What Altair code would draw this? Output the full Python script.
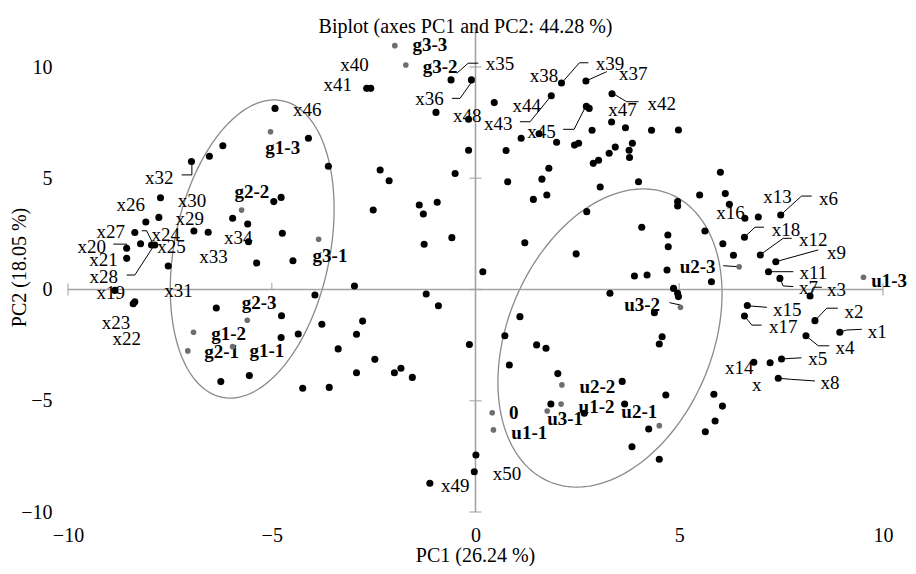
import altair as alt
import numpy as np
import pandas as pd

FONT = "Liberation Serif"
AXIS_COLOR = "#a3a3a3"
ELL_COLOR = "#8a8a8a"
GRAY_PT = "#6e6e6e"

TITLE = "Biplot (axes PC1 and PC2: 44.28 %)"
X_TITLE = "PC1 (26.24 %)"
Y_TITLE = "PC2 (18.05 %)"
tick_values = [-10, -5, 0, 5, 10]
y_axis_top = 11.8

# observation points (black)
pt_x = [-0.60, -0.10, -2.67, -2.57, -0.97, -4.92, -4.10, -6.20, -6.53, -6.97,
        -3.61, -2.34, -2.12, -0.50, 0.46, -0.17, -0.17, 0.75, 0.79, 1.86,
        2.11, 2.71, 3.35, 2.72, 2.79, 1.12, 1.56, 1.99, 2.43, 2.53,
        2.86, 3.34, 3.68, 4.32, 4.98, 3.85, 3.77, 3.78, 3.43, 3.28,
        3.02, 2.89, 1.80, 1.63, 4.00, 3.06, 6.01, 5.50, 6.13, 1.42,
        1.75, 2.73, 4.96, 4.96, 6.23, 6.61, 6.94, 7.49, 4.08, 5.63,
        4.72, 4.73, 6.60, 6.07, 1.21, 2.47, 6.33, 6.99, 7.37, 0.18,
        3.90, 4.21, 4.70, 5.79, 7.19, 7.47, 4.86, 4.96, 4.98, 3.30,
        8.21, 4.39, 6.67, 6.60, 8.33, 8.94, 8.11, 1.09, 0.72, 4.58,
        4.51, -0.15, 1.50, 1.73, 0.83, 6.83, 7.23, 7.51, 7.43, 2.02,
        3.60, 4.67, 5.85, 6.06, 5.88, 5.64, 1.85, 2.67, 3.66, 4.25,
        3.84, 4.51, 0.01, -0.03, -1.12, -7.73, -4.77, -4.95, -2.51, -1.38,
        -1.28, -0.94, -8.09, -7.77, -5.96, -5.59, -6.91, -6.56, -4.74, -8.36,
        -5.57, -1.26, -0.58, -8.22, -7.95, -7.87, -8.56, -8.56, -7.54, -5.37,
        -4.48, -2.97, -8.85, -3.94, -1.21, -0.91, -8.36, -8.40, -6.36, -4.76,
        -2.77, -3.77, -2.92, -4.35, -4.77, -3.37, -2.47, -2.92, -1.99, -1.83,
        -1.55, -5.55, -6.25, -4.24, -3.59]
pt_y = [9.42, 9.42, 9.04, 9.04, 7.96, 8.14, 6.80, 6.46, 5.99, 5.75,
        5.54, 5.37, 4.89, 5.21, 8.40, 7.65, 6.26, 6.25, 4.84, 8.71,
        9.28, 9.37, 8.80, 8.23, 8.14, 6.80, 7.00, 6.62, 6.49, 6.57,
        7.16, 7.53, 7.27, 7.16, 7.17, 6.57, 6.26, 5.93, 6.40, 6.12,
        5.81, 5.67, 5.45, 4.96, 4.84, 4.61, 5.27, 4.25, 4.31, 4.05,
        4.25, 3.50, 3.95, 3.75, 3.83, 3.20, 3.26, 3.35, 2.80, 2.63,
        2.45, 1.92, 2.35, 2.06, 2.10, 1.60, 1.54, 1.55, 1.25, 0.80,
        0.61, 0.65, 0.88, 0.35, 0.80, 0.50, 0.05, -0.17, -0.32, -0.17,
        -0.29, -1.04, -0.72, -1.19, -1.40, -1.92, -2.08, -1.22, -2.08, -2.12,
        -2.45, -2.47, -2.49, -2.64, -3.39, -3.27, -3.29, -3.12, -3.99, -3.78,
        -4.13, -4.74, -4.71, -5.24, -5.91, -6.39, -5.15, -5.56, -5.15, -6.27,
        -7.07, -7.63, -7.44, -8.19, -8.71, 4.12, 4.14, 3.95, 3.57, 3.80,
        3.39, 3.92, 3.03, 3.24, 3.20, 2.94, 2.63, 2.57, 2.53, 2.56,
        2.15, 2.03, 2.33, 2.06, 2.00, 2.00, 1.85, 1.40, 1.06, 1.19,
        1.29, 0.16, -0.04, -0.25, -0.20, -0.73, -0.55, -0.64, -0.83, -1.18,
        -1.42, -1.56, -2.01, -2.00, -2.16, -2.67, -3.14, -3.74, -3.74, -3.54,
        -3.95, -3.87, -4.14, -4.44, -4.40]

# group points (gray) and their bold labels
grp_names = ["g3-3", "g3-2", "g1-3", "g2-2", "g3-1", "g2-3", "g1-2", "g2-1", "g1-1",
             "u2-3", "u1-3", "u3-2", "u2-2", "u1-2", "u3-1", "u2-1", "0", "u1-1"]
grp_x = [-1.98, -1.71, -5.03, -5.74, -3.85, -5.60, -6.92, -7.06, -5.96,
         6.47, 9.52, 5.03, 2.12, 2.10, 1.76, 4.51, 0.41, 0.44]
grp_y = [10.96, 10.09, 7.09, 3.57, 2.26, -1.38, -1.92, -2.76, -2.57,
         1.02, 0.55, -0.80, -4.29, -5.15, -5.46, -6.12, -5.54, -6.31]
glab_x = [-1.12, -0.87, -4.73, -5.49, -3.57, -5.31, -6.06, -6.23, -5.12,
          5.45, 10.15, 4.09, 2.99, 2.97, 2.20, 4.02, 0.94, 1.32]
glab_y = [10.99, 10.01, 6.35, 4.36, 1.51, -0.62, -2.02, -2.83, -2.76,
          1.00, 0.40, -0.70, -4.37, -5.29, -5.83, -5.49, -5.56, -6.44]

# variable labels
lab_names = ["x1", "x2", "x3", "x4", "x5", "x6", "x7", "x8", "x9", "x11",
             "x12", "x13", "x14", "x", "x15", "x16", "x17", "x18", "x19", "x20",
             "x21", "x22", "x23", "x24", "x25", "x26", "x27", "x28", "x29", "x30",
             "x31", "x32", "x33", "x34", "x35", "x36", "x37", "x38", "x39", "x40",
             "x41", "x42", "x43", "x44", "x45", "x46", "x47", "x48", "x49", "x50"]
lab_x = [9.86, 9.29, 8.86, 9.07, 8.40, 8.66, 8.17, 8.70, 8.86, 8.29,
         8.29, 7.41, 6.47, 6.90, 7.65, 6.26, 7.55, 7.62, -8.95, -9.42,
         -9.13, -8.56, -8.82, -7.60, -7.46, -8.46, -8.95, -9.12, -7.01, -6.96,
         -7.29, -7.76, -6.43, -5.82, 0.60, -1.13, 3.87, 1.68, 3.30, -2.97,
         -3.38, 4.57, 0.56, 1.26, 1.62, -4.13, 3.61, -0.20, -0.50, 0.77]
lab_y = [-1.90, -1.00, -0.02, -2.64, -3.14, 4.05, 0.05, -4.22, 1.63, 0.73,
         2.22, 4.17, -3.54, -4.29, -0.92, 3.45, -1.70, 2.67, -0.17, 1.92,
         1.33, -2.24, -1.49, 2.45, 1.92, 3.80, 2.57, 0.58, 3.16, 3.99,
         -0.07, 5.00, 1.47, 2.30, 10.12, 8.55, 9.69, 9.60, 10.12, 10.09,
         9.19, 8.34, 7.44, 8.25, 7.09, 8.07, 8.07, 7.80, -8.83, -8.29]

# leader lines (point -> label)
leaders = {
    "x35": [(-0.46, 9.72), (-0.18, 10.17), (0.07, 10.17)],
    "x36": [(-0.58, 8.59), (-0.38, 8.59), (-0.09, 9.34)],
    "x39": [(2.12, 9.29), (2.55, 10.19), (2.77, 10.19)],
    "x37": [(2.71, 9.37), (3.22, 9.79)],
    "x42": [(3.36, 8.82), (3.71, 8.44), (4.00, 8.44)],
    "x43": [(1.86, 8.71), (1.34, 7.54), (1.09, 7.54)],
    "x45": [(2.71, 8.25), (2.42, 7.20), (2.15, 7.20)],
    "x32": [(-7.21, 5.15), (-6.96, 5.15), (-6.96, 5.69)],
    "x27": [(-8.19, 2.64), (-8.07, 2.64), (-7.92, 2.08)],
    "x20": [(-8.89, 2.04), (-8.56, 2.04), (-8.56, 1.87)],
    "x28": [(-8.56, 0.65), (-8.36, 0.65), (-7.91, 1.92)],
    "x23": [(-8.44, -0.70), (-8.36, -0.56)],
    "x6": [(7.49, 3.35), (8.00, 4.20), (8.25, 4.20)],
    "x18": [(6.60, 2.35), (6.86, 2.80), (7.08, 2.80)],
    "x12": [(6.98, 1.55), (7.55, 2.30), (7.76, 2.30)],
    "x9": [(7.37, 1.25), (8.41, 1.78)],
    "u2-3": [(6.08, 1.07), (6.47, 1.02)],
    "x11": [(7.19, 0.80), (7.80, 0.80)],
    "x7": [(7.47, 0.50), (7.55, 0.16), (7.80, 0.13)],
    "x3": [(8.21, -0.29), (8.29, 0.10), (8.50, 0.10)],
    "x15": [(6.67, -0.73), (7.15, -0.80)],
    "x17": [(6.60, -1.19), (6.78, -1.60), (7.02, -1.60)],
    "x2": [(8.33, -1.40), (8.62, -0.84), (8.89, -0.84)],
    "x1": [(8.94, -1.92), (9.11, -1.82), (9.48, -1.79)],
    "x4": [(8.11, -2.08), (8.41, -2.53), (8.68, -2.53)],
    "x5": [(7.51, -3.12), (8.00, -3.07)],
    "x8": [(7.43, -3.99), (7.76, -4.04), (8.33, -4.11)],
    "u3-2": [(4.76, -0.59), (5.03, -0.70)],
}

# confidence ellipses: centre, spread in x, spread in y, correlation
ell_names = ["g", "u"]
ell_cx = [-5.48, 3.30]
ell_cy = [1.82, -2.18]
ell_sx = [2.01, 2.75]
ell_sy = [6.70, 6.70]
ell_r = [0.269, 0.297]

# ---------------------------------------------------------------- frames
pts = pd.DataFrame({"x": pt_x, "y": pt_y})
grp = pd.DataFrame({"name": grp_names, "x": grp_x, "y": grp_y})
glab = pd.DataFrame({"name": grp_names, "x": glab_x, "y": glab_y})
labs = pd.DataFrame({"name": lab_names, "x": lab_x, "y": lab_y})

lrows = []
for name, seg in leaders.items():
    for k, (lx, ly) in enumerate(seg):
        lrows.append({"id": name, "k": k, "x": lx, "y": ly})
lead = pd.DataFrame(lrows)

t = np.linspace(0, 2 * np.pi, 241)
erows = []
for name, cx, cy, sx, sy, r in zip(ell_names, ell_cx, ell_cy, ell_sx, ell_sy, ell_r):
    ex = cx + sx * np.cos(t)
    ey = cy + sy * (r * np.cos(t) + np.sqrt(1 - r * r) * np.sin(t))
    for k in range(len(t)):
        erows.append({"id": name, "k": k, "x": float(ex[k]), "y": float(ey[k])})
ell = pd.DataFrame(erows)

xscale = alt.Scale(domain=[-10, 10], nice=False, zero=False)
yscale = alt.Scale(domain=[-10, 10], nice=False, zero=False)
xaxis = alt.Axis(values=tick_values, domain=False, ticks=False, grid=False, title=None,
                 labelFont=FONT, labelFontSize=20, labelColor="black", labelPadding=13,
                 labelFlush=False, labelOverlap=False)
yaxis = alt.Axis(values=tick_values, domain=False, ticks=False, grid=False, title=None,
                 labelFont=FONT, labelFontSize=20, labelColor="black", labelPadding=16,
                 labelFlush=False, labelOverlap=False)


def X(f="x"):
    return alt.X(f"{f}:Q", scale=xscale, axis=xaxis)


def Y(f="y"):
    return alt.Y(f"{f}:Q", scale=yscale, axis=yaxis)


# axis lines through the origin
hline = alt.Chart(pd.DataFrame({"x": [-10], "x2": [10], "y": [0]})).mark_rule(
    color=AXIS_COLOR, strokeWidth=1.6).encode(x=X(), x2="x2:Q", y=Y())
vline = alt.Chart(pd.DataFrame({"x": [0], "y": [-10], "y2": [y_axis_top]})).mark_rule(
    color=AXIS_COLOR, strokeWidth=1.6).encode(x=X(), y=Y(), y2="y2:Q")

ends = pd.DataFrame({"x": [tick_values[0], tick_values[-1]], "y": [0, 0]})
mids = pd.DataFrame({"x": [v for v in tick_values if v not in (0, -10, 10)],
                     "y": [0] * 2})
vt = pd.DataFrame({"x": [0] * len(tick_values), "y": tick_values})
hticks_end = alt.Chart(ends).mark_tick(orient="vertical", size=12, thickness=1.5,
                                       color=AXIS_COLOR).encode(x=X(), y=Y())
hticks_mid = alt.Chart(mids).mark_tick(orient="vertical", size=7, thickness=1.5,
                                       yOffset=-3, color=AXIS_COLOR).encode(x=X(), y=Y())
vticks = alt.Chart(vt).mark_tick(orient="horizontal", size=12, thickness=1.5,
                                 color=AXIS_COLOR).encode(x=X(), y=Y())

ellipses = alt.Chart(ell).mark_line(color=ELL_COLOR, strokeWidth=1.3).encode(
    x=X(), y=Y(), detail="id:N", order="k:Q")

leader_lines = alt.Chart(lead).mark_line(color="black", strokeWidth=1).encode(
    x=X(), y=Y(), detail="id:N", order="k:Q")

var_text = alt.Chart(labs).mark_text(font=FONT, fontSize=19, align="center",
                                     baseline="middle", color="black").encode(
    x=X(), y=Y(), text="name:N")
grp_text = alt.Chart(glab).mark_text(font=FONT, fontSize=19, fontWeight="bold",
                                     align="center", baseline="middle",
                                     color="black").encode(x=X(), y=Y(), text="name:N")

black_pts = alt.Chart(pts).mark_circle(size=50, color="black", opacity=1).encode(
    x=X(), y=Y())
gray_pts = alt.Chart(grp).mark_circle(size=32, color=GRAY_PT, opacity=1).encode(
    x=X(), y=Y())

one = pd.DataFrame({"a": [1]})
title_txt = alt.Chart(one).mark_text(text=TITLE, font=FONT, fontSize=20, align="center",
                                     baseline="alphabetic", color="black").encode(
    x=alt.value(397.5), y=alt.value(-34))
xtitle_txt = alt.Chart(one).mark_text(text=X_TITLE, font=FONT, fontSize=20, align="center",
                                      baseline="alphabetic", color="black").encode(
    x=alt.value(407.5), y=alt.value(495))
ytitle_txt = alt.Chart(one).mark_text(text=Y_TITLE, font=FONT, fontSize=20, align="center",
                                      baseline="middle", angle=270, color="black").encode(
    x=alt.value(-48), y=alt.value(200.5))

chart = alt.layer(
    ellipses, hline, vline, hticks_end, hticks_mid, vticks, leader_lines,
    var_text, grp_text, black_pts, gray_pts, title_txt, xtitle_txt, ytitle_txt
).properties(
    width=815, height=445, autosize="none",
    padding={"left": 60, "top": 59, "right": 25, "bottom": 54},
    background="white",
).configure_view(stroke=None)

chart.save("out.html", embed_options={"renderer": "svg", "actions": False})
